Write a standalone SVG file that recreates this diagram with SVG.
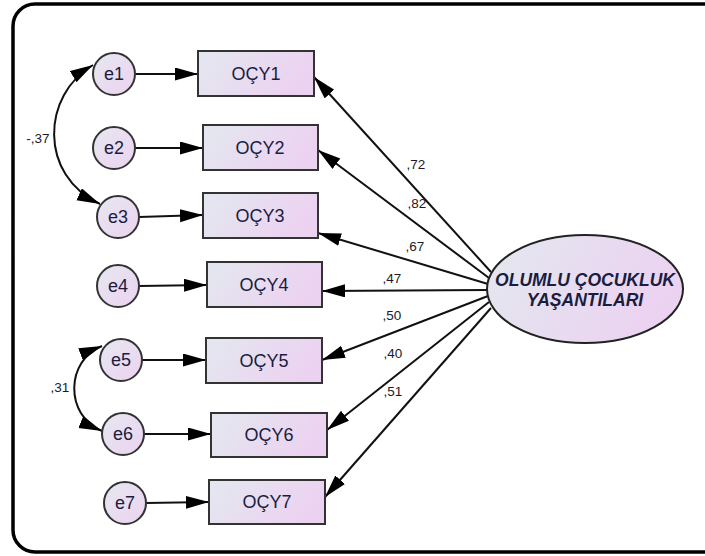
<svg xmlns="http://www.w3.org/2000/svg" width="705" height="556" viewBox="0 0 705 556">
<defs>
<linearGradient id="g" x1="0" y1="0" x2="1" y2="0.3">
<stop offset="0" stop-color="#e3e8ef"/>
<stop offset="1" stop-color="#ecd2f1"/>
</linearGradient>
<linearGradient id="gc" x1="0" y1="0" x2="1" y2="1">
<stop offset="0" stop-color="#e6e8f0"/>
<stop offset="1" stop-color="#ecd2f1"/>
</linearGradient>
<marker id="ah" markerUnits="userSpaceOnUse" markerWidth="24" markerHeight="14" refX="23" refY="6.5" orient="auto-start-reverse">
<path d="M0,0 L23,6.5 L0,13 z" fill="#000"/>
</marker>
<style>
.box{fill:url(#g);stroke:#333;stroke-width:2}
.err{fill:url(#gc);stroke:#333;stroke-width:2}
.nt{font-family:"Liberation Sans",Arial,sans-serif;font-size:18px;fill:#1a1c40;text-anchor:middle}
.lt{font-family:"Liberation Sans",Arial,sans-serif;font-size:13.5px;fill:#1a1a2a;text-anchor:middle}
.c{fill:none;stroke:#111;stroke-width:2;marker-end:url(#ah)}
.cc{fill:none;stroke:#111;stroke-width:2;marker-end:url(#ah);marker-start:url(#ah)}
.bt{font-weight:bold;font-style:italic;font-size:17.5px}
</style>
</defs>
<rect x="13" y="4" width="712" height="548" rx="22" ry="22" fill="#fff" stroke="#000" stroke-width="3.5"/>
<g id="connectors">
<path class="c" d="M136,74 L198,74"/>
<path class="c" d="M135,148 L203,148"/>
<path class="c" d="M139,217 L203,215"/>
<path class="c" d="M139,286 L207,285"/>
<path class="c" d="M142,360 L206,360"/>
<path class="c" d="M144,434 L211,434"/>
<path class="c" d="M146,503 L209,502"/>
<path class="c" d="M491,272 L314,77"/>
<path class="c" d="M489,278 L318,150"/>
<path class="c" d="M488,284 L318,233"/>
<path class="c" d="M487,290 L322,291"/>
<path class="c" d="M488,296 L322,360"/>
<path class="c" d="M489,302 L327,430"/>
<path class="c" d="M491,308 L325,497"/>
<path class="cc" d="M93,65 C42,95 38,175 100,204"/>
<path class="cc" d="M102,346 C66,360 64,415 102,431"/>
<text class="lt" x="416" y="169">,72</text>
<text class="lt" x="417" y="208">,82</text>
<text class="lt" x="415" y="251">,67</text>
<text class="lt" x="392" y="283">,47</text>
<text class="lt" x="392" y="320">,50</text>
<text class="lt" x="393" y="358">,40</text>
<text class="lt" x="393" y="396">,51</text>
<text class="lt" x="38" y="143">-,37</text>
<text class="lt" x="60" y="392">,31</text>
</g>
<g id="e1"><circle class="err" cx="114" cy="74" r="21"/><text class="nt" x="114" y="80">e1</text></g>
<g id="e2"><circle class="err" cx="114" cy="148" r="21"/><text class="nt" x="114" y="154">e2</text></g>
<g id="e3"><circle class="err" cx="118" cy="217" r="21"/><text class="nt" x="118" y="223">e3</text></g>
<g id="e4"><circle class="err" cx="118" cy="286" r="21"/><text class="nt" x="118" y="292">e4</text></g>
<g id="e5"><circle class="err" cx="121" cy="360" r="21"/><text class="nt" x="121" y="366">e5</text></g>
<g id="e6"><circle class="err" cx="123" cy="434" r="21"/><text class="nt" x="123" y="440">e6</text></g>
<g id="e7"><circle class="err" cx="125" cy="503" r="21"/><text class="nt" x="125" y="509">e7</text></g>
<g id="OCY1"><rect class="box" x="198" y="51" width="116" height="45"/><text class="nt" x="256" y="80">OÇY1</text></g>
<g id="OCY2"><rect class="box" x="203" y="125" width="115" height="45"/><text class="nt" x="260" y="154">OÇY2</text></g>
<g id="OCY3"><rect class="box" x="203" y="193" width="115" height="45"/><text class="nt" x="260" y="222">OÇY3</text></g>
<g id="OCY4"><rect class="box" x="207" y="262" width="115" height="45"/><text class="nt" x="264" y="291">OÇY4</text></g>
<g id="OCY5"><rect class="box" x="206" y="338" width="116" height="45"/><text class="nt" x="264" y="367">OÇY5</text></g>
<g id="OCY6"><rect class="box" x="211" y="413" width="116" height="44"/><text class="nt" x="269" y="441">OÇY6</text></g>
<g id="OCY7"><rect class="box" x="209" y="480" width="116" height="44"/><text class="nt" x="267" y="508">OÇY7</text></g>
<g id="OCY"><ellipse cx="585" cy="289" rx="98" ry="54" fill="url(#g)" stroke="#222" stroke-width="2"/>
<text class="nt bt" x="585" y="286">OLUMLU ÇOCUKLUK</text>
<text class="nt bt" x="585" y="306">YAŞANTILARI</text></g>
</svg>
